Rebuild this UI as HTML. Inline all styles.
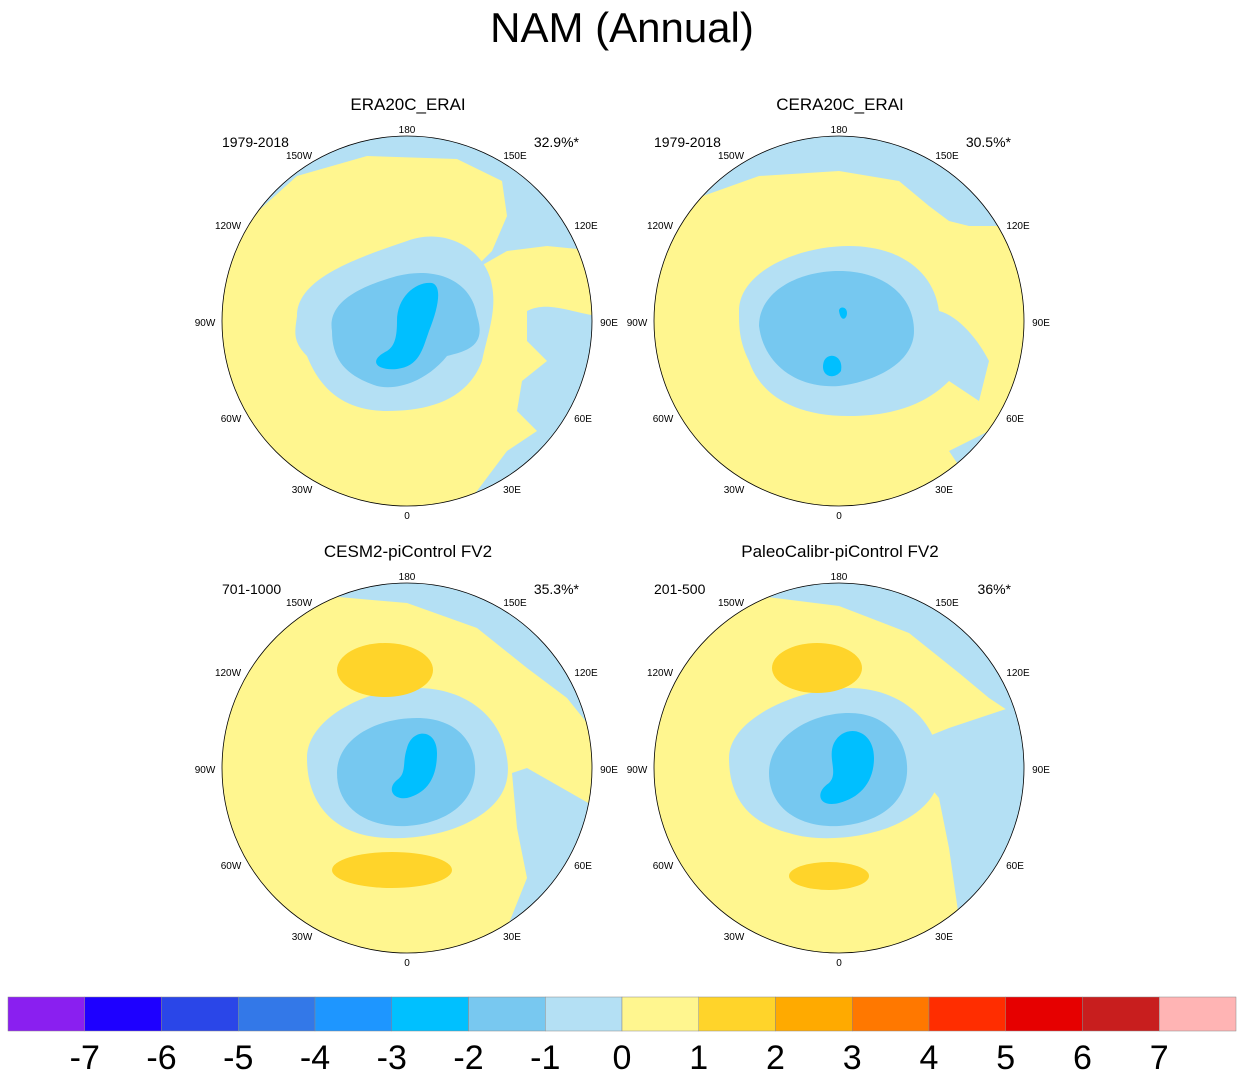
<!DOCTYPE html>
<html><head><meta charset="utf-8"><style>
body{margin:0;background:#fff;width:1244px;height:1078px;overflow:hidden;font-family:"Liberation Sans",sans-serif}
svg text{font-family:"Liberation Sans",sans-serif}
</style></head><body>
<svg id="fig" width="1244" height="1078" viewBox="0 0 1244 1078">
<defs>
<clipPath id="cc"><circle cx="0" cy="0" r="185"/></clipPath>
</defs>
<text x="622" y="42" font-size="42" text-anchor="middle">NAM (Annual)</text>

<!-- Panel 1 -->
<g transform="translate(407,321)">
<g clip-path="url(#cc)">
<rect x="-190" y="-190" width="380" height="380" fill="#fff68f"/>
<path fill="#b4e0f4" d="M-190,-40 L-185,-45 L-160,-100 L-110,-145 L-40,-165 L50,-162 L95,-140 L100,-105 L85,-70 L65,-50 L100,-70 L140,-75 L190,-70 L190,-190 L-190,-190Z"/>
<path fill="#b4e0f4" d="M120,-10 C140,-20 160,-10 190,-5 L190,200 L40,200 L70,170 L100,130 L130,110 L110,90 L115,60 L140,40 L120,20Z"/>
<path fill="#b4e0f4" d="M-110,-5 C-110,-40 -60,-60 0,-80 C40,-95 80,-70 85,-35 C90,-10 80,15 75,40 C60,80 20,90 -20,90 C-70,90 -90,60 -100,35 C-115,20 -112,10 -110,-5Z"/>
<path fill="#76c8f0" d="M-75,10 C-80,-20 -45,-35 -10,-45 C30,-55 65,-40 70,-5 C80,25 60,30 40,35 C20,60 -10,70 -30,65 C-60,55 -75,40 -75,10Z"/>
<path fill="#00bfff" d="M-10,0 C-10,-25 10,-40 25,-38 C35,-35 32,-15 22,10 C15,30 12,45 -10,48 C-30,50 -40,40 -20,30 C-12,25 -10,15 -10,0Z"/>
</g>
<circle r="185" fill="none" stroke="#000" stroke-width="0.8"/>
</g>

<!-- Panel 2 -->
<g transform="translate(839,321)">
<g clip-path="url(#cc)">
<rect x="-190" y="-190" width="380" height="380" fill="#fff68f"/>
<path fill="#b4e0f4" d="M-190,-70 L-180,-75 L-150,-120 L-80,-145 L0,-150 L60,-140 L90,-115 L110,-100 L130,-95 L170,-95 L190,-80 L190,-190 L-190,-190Z"/>
<path fill="#b4e0f4" d="M-100,-10 C-100,-50 -40,-75 10,-75 C60,-75 95,-50 100,-10 C120,-5 140,20 150,40 L140,80 L110,60 C90,80 60,95 10,95 C-50,95 -80,70 -90,40 C-100,20 -100,5 -100,-10Z"/>
<path fill="#b4e0f4" d="M110,130 L150,110 L185,90 L190,160 L130,160Z"/>
<path fill="#76c8f0" d="M-80,5 C-80,-30 -40,-50 0,-50 C45,-50 75,-25 75,10 C75,40 40,60 0,65 C-40,68 -75,45 -80,5Z"/>
<path fill="#00bfff" d="M0,-10 C0,-15 8,-15 8,-8 C8,-2 2,2 0,-10Z M-15,40 C-10,30 5,35 2,50 C-5,60 -20,55 -15,40Z"/>
</g>
<circle r="185" fill="none" stroke="#000" stroke-width="0.8"/>
</g>

<!-- Panel 3 -->
<g transform="translate(407,768)">
<g clip-path="url(#cc)">
<rect x="-190" y="-190" width="380" height="380" fill="#fff68f"/>
<path fill="#b4e0f4" d="M-80,-190 L-80,-172 L0,-165 L70,-140 L120,-100 L160,-70 L180,-45 L190,-40 L190,-190Z"/>
<path fill="#b4e0f4" d="M-100,-10 C-100,-50 -40,-80 10,-80 C60,-80 95,-50 100,-10 C105,20 90,40 60,55 C30,70 -20,75 -50,65 C-80,55 -100,30 -100,-10Z"/>
<path fill="#b4e0f4" d="M105,5 L120,0 L190,40 L190,200 L60,200 L100,160 L120,110 L110,60Z"/>
<path fill="#76c8f0" d="M-70,5 C-70,-30 -30,-50 10,-50 C50,-50 70,-25 68,5 C66,35 40,55 0,58 C-40,60 -70,40 -70,5Z"/>
<path fill="#00bfff" d="M0,-20 C5,-40 30,-40 30,-15 C30,10 20,25 0,30 C-15,32 -20,20 -10,12 C0,5 -5,-5 0,-20Z"/>
<ellipse cx="-22" cy="-98" rx="48" ry="27" fill="#ffd42a"/>
<ellipse cx="-15" cy="102" rx="60" ry="18" fill="#ffd42a"/>
</g>
<circle r="185" fill="none" stroke="#000" stroke-width="0.8"/>
</g>

<!-- Panel 4 -->
<g transform="translate(839,768)">
<g clip-path="url(#cc)">
<rect x="-190" y="-190" width="380" height="380" fill="#fff68f"/>
<path fill="#b4e0f4" d="M-80,-190 L-80,-172 L0,-162 L70,-135 L120,-95 L150,-70 L180,-50 L190,-45 L190,-190Z"/>
<path fill="#b4e0f4" d="M-110,-10 C-110,-50 -40,-80 10,-80 C60,-80 95,-50 100,-10 C105,20 90,40 60,55 C30,70 -20,75 -50,65 C-90,55 -110,30 -110,-10Z"/>
<path fill="#b4e0f4" d="M60,-20 L110,-40 L170,-60 L190,-40 L190,200 L110,200 L120,150 L110,80 L100,30Z"/>
<path fill="#76c8f0" d="M-70,5 C-70,-30 -30,-55 10,-55 C50,-55 70,-25 68,5 C66,35 40,55 0,58 C-40,60 -70,40 -70,5Z"/>
<path fill="#00bfff" d="M-5,-25 C5,-45 35,-40 35,-10 C35,15 20,30 0,35 C-20,40 -25,25 -10,15 C0,5 -12,-10 -5,-25Z"/>
<ellipse cx="-22" cy="-100" rx="45" ry="25" fill="#ffd42a"/>
<ellipse cx="-10" cy="108" rx="40" ry="14" fill="#ffd42a"/>
</g>
<circle r="185" fill="none" stroke="#000" stroke-width="0.8"/>
</g>
<g id="labels"></g>
<g id="cbar"></g>
</svg>
<script>
const levelLabels=["-7","-6","-5","-4","-3","-2","-1","0","1","2","3","4","5","6","7"];
const levelColors=["#8a1ff0","#1e00ff","#2a46e8","#3378e8","#1e96ff","#00c0ff","#78c8f0","#b4e0f4","#fff68f","#ffd42a","#ffaa00","#ff7800","#ff2d00","#e60000","#c81e1e","#ffb4b4"];
const panelTitles=["ERA20C_ERAI","CERA20C_ERAI","CESM2-piControl FV2","PaleoCalibr-piControl FV2"];
const panelYears=["1979-2018","1979-2018","701-1000","201-500"];
const panelPct=["32.9%*","30.5%*","35.3%*","36%*"];
const lonLabels=["180","150E","120E","90E","60E","30E","0","30W","60W","90W","120W","150W"];
const lonOffX=[0,108,179,202,176,105,0,-105,-176,-202,-179,-108];
const lonOffY=[-192,-166,-96,1,97,168,194,168,97,1,-96,-166];
const NS="http://www.w3.org/2000/svg";
function T(p,x,y,s,t,a){const e=document.createElementNS(NS,"text");e.setAttribute("x",x);e.setAttribute("y",y);e.setAttribute("font-size",s);e.setAttribute("text-anchor",a||"middle");e.textContent=t;p.appendChild(e);return e;}
const L=document.getElementById("labels");
const centers=[[407,321],[839,321],[407,768],[839,768]];
centers.forEach((c,i)=>{
 let e=T(L,c[0]+1,c[1]-211,17,panelTitles[i]);
 
 
 e=T(L,c[0]-185,c[1]-174,14,panelYears[i],"start");
 
 
 e=T(L,c[0]+172,c[1]-174,14,panelPct[i],"end");
 
 
 lonLabels.forEach((l,k)=>{
  const t=T(L,c[0]+lonOffX[k],c[1]+lonOffY[k]+4,10,l);
  
  
 });
});
const C=document.getElementById("cbar");
const x0=8,x1=1236,w=(x1-x0)/levelColors.length;
levelColors.forEach((col,i)=>{
 const r=document.createElementNS(NS,"rect");
 r.setAttribute("x",x0+i*w);r.setAttribute("y",997);r.setAttribute("width",w);r.setAttribute("height",34);
 r.setAttribute("fill",col);r.setAttribute("stroke","#888");r.setAttribute("stroke-width","0.5");
 
 
 C.appendChild(r);
});
levelLabels.forEach((l,i)=>{
 const t=T(C,x0+(i+1)*w,1069,34,l);
 
 
});
</script>
</body></html>
